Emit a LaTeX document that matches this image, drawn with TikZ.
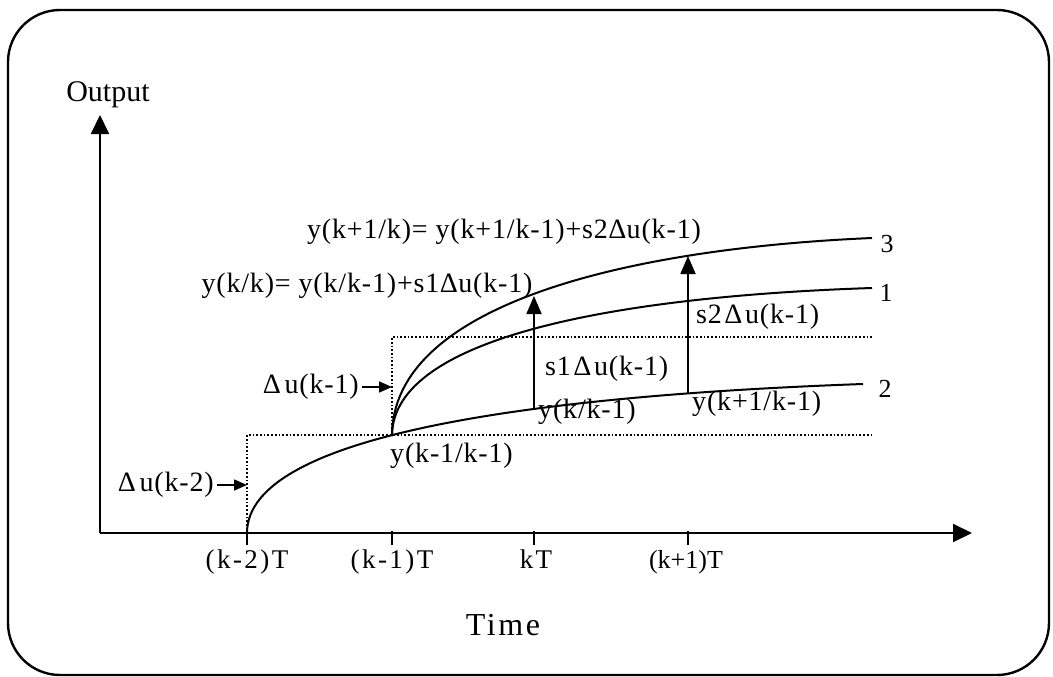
\documentclass[tikz,border=0pt]{standalone}
\usepackage{fontspec}
\setmainfont{Liberation Serif}
\newfontfamily\spaced{Liberation Serif}[LetterSpace=3]
\newfontfamily\tickfont{Liberation Serif}[LetterSpace=9]
\newfontfamily\wide{Liberation Serif}[LetterSpace=8]
\usetikzlibrary{arrows.meta}
\newcommand{\du}{∆}
\newcommand{\sdu}{\kern3pt∆\kern3pt}
\newcommand{\ticklabel}[2]{\node[ticklbl] (#2) at (#1,568)}
\tikzset{
  frame/.style={line width=2.4pt,rounded corners=52pt},
  axis/.style={line width=2pt,-{Triangle[length=19pt,width=18pt]}},
  curve/.style={line width=2pt},
  stepline/.style={line width=1.7pt,dash pattern=on 1.7pt off 2pt},
  bigarrow/.style={line width=1.8pt,-{Triangle[length=18pt,width=15pt]}},
  smallarrow/.style={line width=1.6pt,-{Triangle[length=13pt,width=11pt]}},
  lbl/.style={inner sep=0pt,font=\fontsize{28}{30}\selectfont\spaced},
  ticklbl/.style={inner sep=0pt,anchor=base,font=\fontsize{27}{30}\selectfont\tickfont},
  numlbl/.style={inner sep=0pt,font=\fontsize{26}{28}\selectfont},
}

\begin{document}
\begin{tikzpicture}[x=1pt,y=-1pt]
  \useasboundingbox (0,0) rectangle (1053,677);
  \draw[frame] (8,10) rectangle (1049,675);

  % axes
  \coordinate (O) at (100,533);
  \coordinate (ytop) at (100,115);
  \coordinate (xend) at (972,533);
  \draw[axis] (O) -- (ytop);
  \draw[axis] (O) -- (xend);
  \node[inner sep=0pt,anchor=base,font=\fontsize{30}{32}\selectfont] (outlbl) at (108,102) {Output};
  \node[inner sep=0pt,anchor=base,font=\fontsize{32}{34}\selectfont\wide] (timelbl) at (503,635) {Time};

  % ticks
  \foreach \x in {247,392,534,688}
    \draw[line width=1.5pt] (\x,531) -- (\x,545);
  \ticklabel{247}{t2}{(k-2)T};
  \ticklabel{392}{t1}{(k-1)T};
  \ticklabel{536}{t0}{kT};
  \node[numlbl,anchor=base] (tp) at (686,568) {(k+1)T};

  % input steps
  \coordinate (k2) at (247,533);
  \coordinate (k1) at (392,436);
  \draw[stepline] (k2) -- (247,435) -- (872,435);
  \draw[stepline] (k1) -- (392,337) -- (872,337);

  % responses
  \coordinate (e2) at (863,384);
  \coordinate (e1) at (872,288);
  \coordinate (e3) at (872,238);
  \draw[curve] (k2) .. controls (247,433) and (543,395.5) .. (e2);
  \draw[curve] (k1) .. controls (392,336) and (622,296.25) .. (e1);
  \draw[curve] (k1) .. controls (392,306) and (622,248.75) .. (e3);
  \node[numlbl] (c3) at (887,244) {3};
  \node[numlbl] (c1) at (886,293) {1};
  \node[numlbl] (c2) at (885,389) {2};

  % corrections
  \coordinate (p1) at (534,408);
  \coordinate (q1) at (534,296);
  \coordinate (p2) at (688,393);
  \coordinate (q2) at (688,256);
  \draw[bigarrow] (p1) -- (q1);
  \draw[bigarrow] (p2) -- (q2);
  \node[lbl,anchor=base west] (s1) at (545,375) {s1\sdu u(k-1)};
  \node[lbl,anchor=base west] (s2) at (696,323) {s2\sdu u(k-1)};
  \node[lbl,anchor=base west] (yk) at (538,418) {y(k/k-1)};
  \node[lbl,anchor=base west] (yk1) at (692,410) {y(k+1/k-1)};
  \node[lbl,anchor=base west] (ykm) at (390,462) {y(k-1/k-1)};
  \node[lbl,anchor=base] (eq1) at (367,292) {y(k/k)= y(k/k-1)+s1\du u(k-1)};
  \node[lbl,anchor=base] (eq2) at (504,238) {y(k+1/k)= y(k+1/k-1)+s2\du u(k-1)};

  % step labels
  \coordinate (u1) at (392,387);
  \coordinate (u2) at (247,485);
  \node[lbl,anchor=east] (du1) at (359,387) {\du\kern4pt u(k-1)};
  \node[lbl,anchor=east] (du2) at (214,485) {\du\kern4pt u(k-2)};
  \draw[smallarrow] (du1.east) ++(3,0) -- (u1);
  \draw[smallarrow] (du2.east) ++(3,0) -- (u2);
\end{tikzpicture}
\end{document}
